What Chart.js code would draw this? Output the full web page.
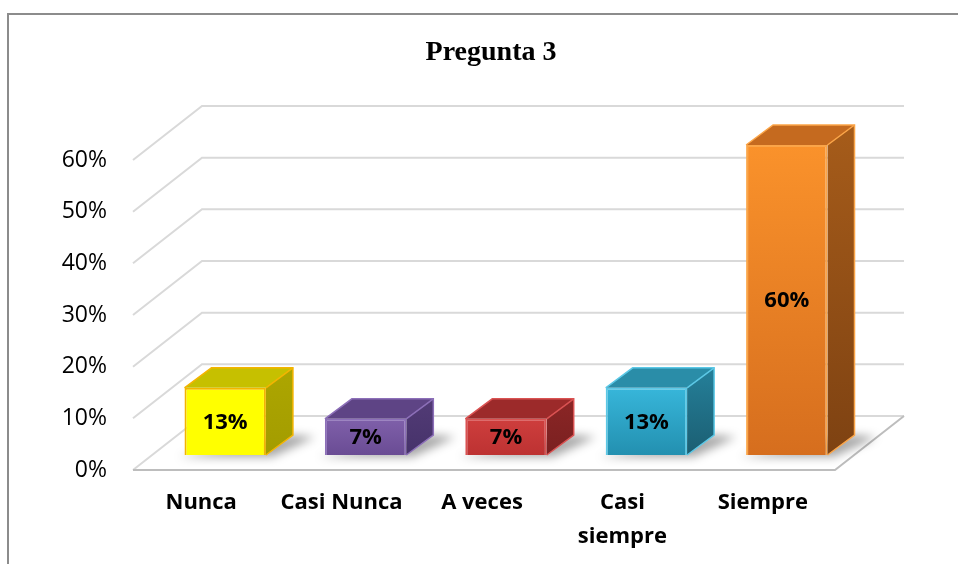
<!DOCTYPE html>
<html>
<head>
<meta charset="utf-8">
<script src="https://cdn.jsdelivr.net/npm/chart.js@4/dist/chart.umd.min.js"></script>
<style>
  body { margin: 0; background: #fff; }
  canvas { display: block; }
</style>
</head>
<body>
<canvas id="myChart" width="958" height="564"></canvas>
<script>
// Data
const categories = ["Nunca", "Casi Nunca", "A veces", ["Casi", "siempre"], "Siempre"];
const percentages = [13, 7, 7, 13, 60];
const yMax = 60;
const yStep = 10;

// Bar colours (front top / front bottom / top face / side top / side bottom / edge)
const frontTop = ["#FFFF00", "#7F60AA", "#CE3E3D", "#37B6DA", "#FA922B"];
const frontBottom = ["#FFFF00", "#6A4C94", "#BD3232", "#2390B0", "#D66E1E"];
const topFace = ["#C6C000", "#5E4485", "#9C2A2A", "#2A8DA8", "#C56A1F"];
const sideTop = ["#ADA600", "#523B76", "#8B2626", "#25809A", "#A65C1A"];
const sideBottom = ["#A39C00", "#46326A", "#7A2020", "#1B5E72", "#7E4212"];
const edgeColor = ["#F4B400", "#8C6FB8", "#DA5252", "#5CC8E6", "#FBA548"];

const DEPTH_X = 27, DEPTH_Y = 20;           // bar depth
const FRONT = { x: -22, y: 15 };             // front plane relative to bars
const BACK = { x: 47, y: -39 };              // back wall relative to bars

function line(ctx, pts, color, width) {
  ctx.beginPath();
  ctx.moveTo(pts[0][0], pts[0][1]);
  for (let i = 1; i < pts.length; i++) ctx.lineTo(pts[i][0], pts[i][1]);
  ctx.strokeStyle = color;
  ctx.lineWidth = width;
  ctx.stroke();
}

function poly(ctx, pts, fill) {
  ctx.beginPath();
  ctx.moveTo(pts[0][0], pts[0][1]);
  for (let i = 1; i < pts.length; i++) ctx.lineTo(pts[i][0], pts[i][1]);
  ctx.closePath();
  ctx.fillStyle = fill;
  ctx.fill();
}

const box3d = {
  id: "box3d",
  beforeDraw(chart) {
    const ctx = chart.ctx;
    ctx.save();
    // outer frame
    line(ctx, [[8, 564], [8, 14], [958, 14]], "#8c8c8c", 2);
    // title
    ctx.fillStyle = "#000";
    ctx.font = 'bold 28px "Liberation Serif"';
    ctx.textAlign = "center";
    ctx.textBaseline = "middle";
    ctx.fillText("Pregunta 3", 491, 53);
    ctx.restore();
  },
  beforeDatasetsDraw(chart) {
    const ctx = chart.ctx;
    const area = chart.chartArea;
    const y = chart.scales.y;
    ctx.save();
    // back wall gridlines + left side diagonals
    for (let v = 0; v <= yMax; v += yStep) {
      const py = y.getPixelForValue(v);
      line(ctx, [
        [area.left + FRONT.x, py + FRONT.y],
        [area.left + BACK.x, py + BACK.y],
        [area.right + BACK.x, py + BACK.y]
      ], "#d9d9d9", 2);
    }
    // floor
    const p0 = y.getPixelForValue(0);
    line(ctx, [
      [area.left + FRONT.x, p0 + FRONT.y],
      [area.right + FRONT.x, p0 + FRONT.y],
      [area.right + BACK.x, p0 + BACK.y]
    ], "#bdbdbd", 2);

    // bar shadows, side faces and top faces
    const meta = chart.getDatasetMeta(0);
    meta.data.forEach((bar, i) => {
      const x1 = bar.x - bar.width / 2;
      const x2 = bar.x + bar.width / 2;
      const top = bar.y;
      const base = bar.base;

      ctx.save();
      ctx.filter = "blur(5px)";
      poly(ctx, [
        [x1 - 6, base + 2], [x2 + 6, base + 2],
        [x2 + DEPTH_X + 22, base - DEPTH_Y + 2], [x2 + DEPTH_X, base - DEPTH_Y]
      ], "rgba(0,0,0,0.35)");
      ctx.restore();

      const side = ctx.createLinearGradient(0, top - DEPTH_Y, 0, base);
      side.addColorStop(0, sideTop[i]);
      side.addColorStop(1, sideBottom[i]);
      poly(ctx, [
        [x2, top], [x2 + DEPTH_X, top - DEPTH_Y],
        [x2 + DEPTH_X, base - DEPTH_Y], [x2, base]
      ], side);
      poly(ctx, [
        [x1, top], [x1 + DEPTH_X, top - DEPTH_Y],
        [x2 + DEPTH_X, top - DEPTH_Y], [x2, top]
      ], topFace[i]);
      line(ctx, [
        [x1, top], [x1 + DEPTH_X, top - DEPTH_Y],
        [x2 + DEPTH_X, top - DEPTH_Y], [x2 + DEPTH_X, base - DEPTH_Y], [x2, base]
      ], edgeColor[i], 1.5);
      line(ctx, [[x2, top], [x2 + DEPTH_X, top - DEPTH_Y]], edgeColor[i], 1.5);
    });
    ctx.restore();
  },
  afterDatasetsDraw(chart) {
    const ctx = chart.ctx;
    const meta = chart.getDatasetMeta(0);
    ctx.save();
    ctx.fillStyle = "#000";
    ctx.font = 'bold 22px "Open Sans"';
    ctx.textAlign = "center";
    ctx.textBaseline = "middle";
    meta.data.forEach((bar, i) => {
      ctx.fillText(percentages[i] + "%", bar.x, (bar.y + bar.base) / 2 + 1);
    });
    ctx.restore();
  }
};

const canvas = document.getElementById("myChart");
const ctx = canvas.getContext("2d");

new Chart(ctx, {
  type: "bar",
  data: {
    labels: categories,
    datasets: [{
      label: "Pregunta 3",
      data: percentages,
      backgroundColor: function (c) {
        const chart = c.chart;
        if (!chart.chartArea) return frontTop[c.dataIndex];
        const ys = chart.scales.y;
        const g = chart.ctx.createLinearGradient(0, ys.getPixelForValue(percentages[c.dataIndex]), 0, ys.getPixelForValue(0));
        g.addColorStop(0, frontTop[c.dataIndex]);
        g.addColorStop(1, frontBottom[c.dataIndex]);
        return g;
      },
      borderColor: edgeColor,
      borderWidth: 2,
      barPercentage: 0.58,
      categoryPercentage: 1
    }]
  },
  options: {
    responsive: false,
    animation: false,
    layout: {
      padding: { left: 10, right: 101, top: 145, bottom: 0 }
    },
    plugins: {
      legend: { display: false },
      title: { display: false },
      tooltip: { enabled: false }
    },
    scales: {
      x: {
        grid: { display: false, drawTicks: false },
        border: { display: false },
        ticks: {
          color: "#000",
          font: { family: "Open Sans", size: 22, weight: "bold", lineHeight: 1.55 },
          padding: 31,
          labelOffset: -24,
          maxRotation: 0,
          autoSkip: false
        },
        afterFit: function (s) { s.height = 109; }
      },
      y: {
        min: 0,
        max: yMax,
        grid: { display: false, drawTicks: false },
        border: { display: false },
        ticks: {
          stepSize: yStep,
          color: "#000",
          font: { family: "Open Sans", size: 23 },
          padding: 48,
          labelOffset: 15,
          callback: function (v) { return v + "%"; }
        },
        afterFit: function (s) { s.width = 145; }
      }
    }
  },
  plugins: [box3d]
});
</script>
</body>
</html>
